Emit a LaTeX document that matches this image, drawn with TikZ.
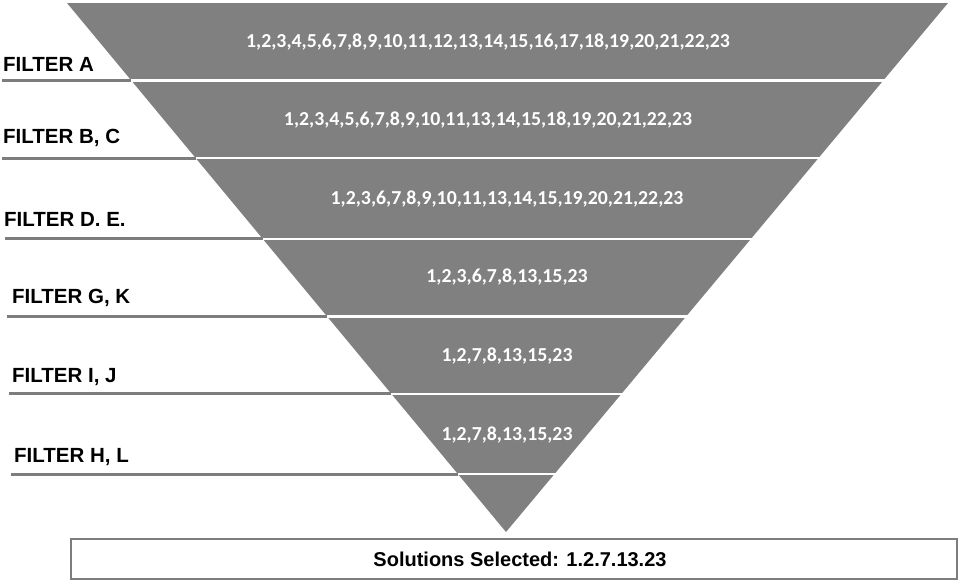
\documentclass[tikz,border=0pt]{standalone}
\usepackage{fontspec}
\setmainfont{Liberation Sans}
\newfontfamily\numfont{Carlito}
\usetikzlibrary{calc}

\definecolor{funnelgray}{RGB}{128,128,128}
\definecolor{rulegray}{RGB}{125,125,125}

\tikzset{
  band/.style={fill=funnelgray},
  cut/.style={draw=white, line width=2.6pt, shorten <=-4pt, shorten >=-4pt},
  filterline/.style={draw=rulegray, line width=3pt},
  filterlabel/.style={anchor=west, inner sep=0pt,
    font=\bfseries\fontsize{20.5}{22}\selectfont},
  idlist/.style={text=white, inner sep=0pt,
    font=\numfont\bfseries\fontsize{19.8}{22}\selectfont},
  resultbox/.style={draw=rulegray, line width=2.5pt, minimum width=886pt,
    minimum height=40pt, inner sep=0pt},
}

\begin{document}
\begin{tikzpicture}[x=1pt,y=-1pt]
    \useasboundingbox (0,0) rectangle (960,581);

    % funnel
    \coordinate (tl) at (67,3);
    \coordinate (tr) at (948,3);
    \coordinate (apex) at (506,532);
    \fill[band] (tl) -- (tr) -- (apex) -- cycle;

    % cuts between the filter stages, with the rule out to the left
    \foreach \t/\x/\name in {0.1465/2/a, 0.2930/2/b, 0.4460/5/d,
                             0.5927/7/g, 0.7390/9/i, 0.8904/11/h}{
      \coordinate (cl-\name) at ($(tl)!\t!(apex)$);
      \coordinate (cr-\name) at ($(tr)!\t!(apex)$);
      \coordinate (rs-\name) at (\x, 0 |- cl-\name);
      \draw[cut] (cl-\name) -- (cr-\name);
      \draw[filterline] (rs-\name) -- (cl-\name);
    }

    % filter names
    \node[filterlabel] (fa) at (3,64)   {FILTER A};
    \node[filterlabel] (fb) at (3,138)  {FILTER B, C};
    \node[filterlabel] (fd) at (4,219)  {FILTER D. E.};
    \node[filterlabel] (fg) at (12,298) {FILTER G, K};
    \node[filterlabel] (fi) at (12,377) {FILTER I, J};
    \node[filterlabel] (fh) at (14,457) {FILTER H, L};

    % remaining solutions after each stage
    \node[idlist] (la) at (488,42)  {1,2,3,4,5,6,7,8,9,10,11,12,13,14,15,16,17,18,19,20,21,22,23};
    \node[idlist] (lb) at (488,120) {1,2,3,4,5,6,7,8,9,10,11,13,14,15,18,19,20,21,22,23};
    \node[idlist] (ld) at (507,199) {1,2,3,6,7,8,9,10,11,13,14,15,19,20,21,22,23};
    \node[idlist] (lg) at (507,277) {1,2,3,6,7,8,13,15,23};
    \node[idlist] (li) at (507,356) {1,2,7,8,13,15,23};
    \node[idlist] (lh) at (507,435) {1,2,7,8,13,15,23};

    % result
    \node[resultbox] (res) at (514,559) {};
    \node[font=\bfseries\fontsize{20}{22}\selectfont, inner sep=0pt] (restext) at (520,559) {Solutions Selected: 1.2.7.13.23};
\end{tikzpicture}
\end{document}
